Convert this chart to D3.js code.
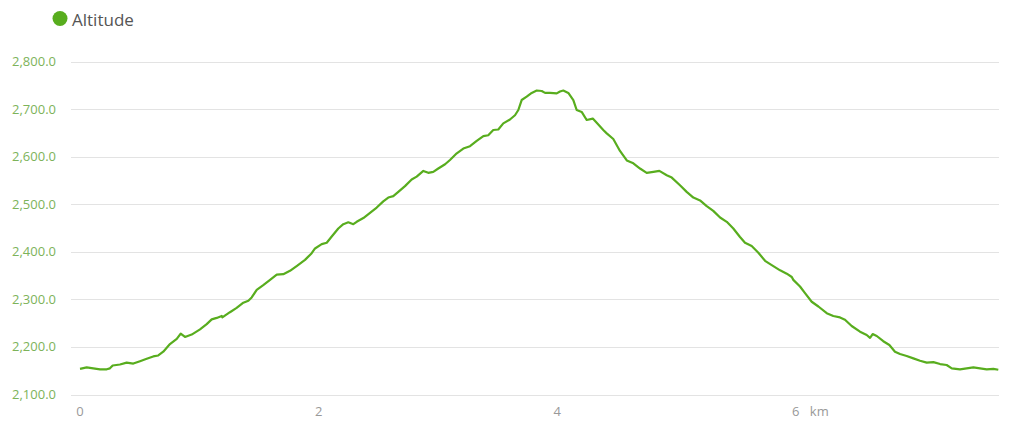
<!DOCTYPE html>
<html><head><meta charset="utf-8">
<script src="https://cdn.jsdelivr.net/npm/d3@7"></script>
<style>html,body{margin:0;padding:0;background:#fff;}svg{display:block;font-family:"Open Sans",sans-serif;}</style>
</head><body><svg id="c" width="1024" height="429"></svg>
<script>
const seriesName = "Altitude";
const distKm = [0.000,0.056,0.111,0.168,0.224,0.251,0.274,0.335,0.391,0.447,0.503,0.559,0.614,0.656,0.698,0.754,0.811,0.844,0.880,0.936,1.006,1.062,1.104,1.146,1.188,1.193,1.257,1.313,1.369,1.411,1.439,1.481,1.536,1.593,1.649,1.704,1.760,1.816,1.886,1.942,1.970,2.026,2.068,2.110,2.165,2.207,2.249,2.291,2.319,2.375,2.431,2.487,2.542,2.584,2.626,2.668,2.724,2.780,2.822,2.878,2.919,2.961,3.003,3.060,3.101,3.158,3.213,3.269,3.325,3.381,3.422,3.464,3.506,3.548,3.604,3.646,3.674,3.702,3.744,3.786,3.828,3.870,3.898,3.940,3.996,4.023,4.051,4.093,4.135,4.163,4.205,4.247,4.298,4.331,4.386,4.415,4.470,4.526,4.583,4.638,4.694,4.750,4.806,4.856,4.918,4.960,5.029,5.085,5.141,5.197,5.253,5.308,5.365,5.421,5.476,5.532,5.574,5.630,5.686,5.742,5.798,5.868,5.924,5.966,5.979,6.035,6.077,6.133,6.189,6.259,6.314,6.370,6.412,6.468,6.538,6.594,6.622,6.644,6.678,6.733,6.784,6.831,6.873,6.929,6.985,7.041,7.097,7.153,7.209,7.264,7.307,7.376,7.432,7.488,7.544,7.600,7.656,7.697];
const altitude = [2154,2157,2155,2153,2153,2155,2161,2163,2167,2165,2170,2175,2180,2182,2190,2206,2217,2228,2221,2226,2237,2248,2258,2261,2265,2262,2273,2282,2293,2297,2304,2320,2330,2341,2352,2353,2360,2370,2383,2397,2407,2416,2419,2432,2449,2458,2462,2458,2463,2471,2482,2493,2506,2514,2517,2526,2538,2552,2558,2570,2566,2568,2575,2584,2593,2607,2617,2622,2633,2643,2645,2656,2657,2670,2678,2687,2698,2719,2726,2734,2739,2738,2734,2734,2733,2737,2739,2734,2719,2698,2694,2677,2680,2671,2656,2649,2637,2612,2592,2586,2575,2566,2568,2570,2561,2556,2540,2526,2514,2508,2496,2486,2472,2463,2449,2431,2419,2412,2398,2381,2372,2361,2354,2347,2341,2327,2313,2295,2285,2271,2265,2262,2257,2244,2232,2225,2219,2227,2223,2212,2204,2190,2185,2181,2176,2171,2167,2168,2164,2162,2155,2153,2155,2157,2155,2153,2154,2152];
const yTicks = [2100,2200,2300,2400,2500,2600,2700,2800];
const xTicks = [0,2,4,6];
const xUnit = "km";

const svg = d3.select("#c");
const x = d3.scaleLinear().domain([0, d3.max(distKm)]).range([80, 998.3]);
const y = d3.scaleLinear().domain([2100, 2800]).range([394.5, 61.5]);
const green = "#58ad1e";

// gridlines
svg.append("g").selectAll("line").data(yTicks).join("line")
  .attr("x1", 71).attr("x2", 999)
  .attr("y1", d => Math.round(y(d)) + 0.5).attr("y2", d => Math.round(y(d)) + 0.5)
  .attr("stroke", "#e3e3e3").attr("stroke-width", 1);

// y labels
svg.append("g").selectAll("text").data(yTicks).join("text")
  .attr("x", 56).attr("y", d => y(d)).attr("dy", "0.35em")
  .attr("text-anchor", "end").attr("font-size", 13).attr("fill", "#7db35a")
  .text(d => d3.format(",.1f")(d));

// x labels
svg.append("g").selectAll("text").data(xTicks).join("text")
  .attr("x", d => x(d)).attr("y", 411).attr("dy", "0.35em")
  .attr("text-anchor", "middle").attr("font-size", 13).attr("fill", "#999")
  .text(d => d);
svg.append("text").attr("x", x(6) + 14).attr("y", 411).attr("dy", "0.35em")
  .attr("font-size", 13).attr("fill", "#999").text(xUnit);

// line
const line = d3.line().x((d, i) => x(distKm[i])).y(d => y(d));
svg.append("path").datum(altitude).attr("d", line)
  .attr("fill", "none").attr("stroke", green).attr("stroke-width", 2.2)
  .attr("stroke-linejoin", "round");

// legend
svg.append("circle").attr("cx", 60).attr("cy", 18.5).attr("r", 7.5).attr("fill", green);
svg.append("text").attr("x", 72).attr("y", 25.5).attr("font-size", 17)
  .attr("fill", "#555").text(seriesName);
</script></body></html>
